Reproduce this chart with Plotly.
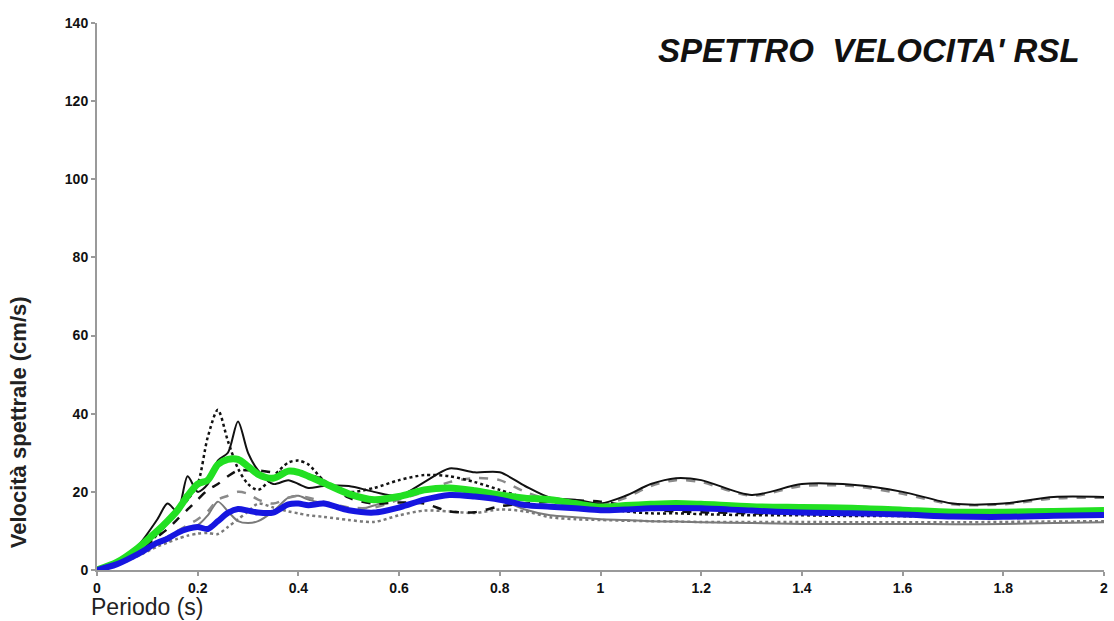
import plotly.graph_objects as go

periods = [0, 0.04, 0.08, 0.12, 0.14, 0.16, 0.18, 0.2, 0.22, 0.24, 0.26, 0.28, 0.3, 0.32, 0.35,
           0.38, 0.4, 0.42, 0.45, 0.5, 0.55, 0.6, 0.65, 0.7, 0.75, 0.8, 0.85, 0.9, 0.95, 1.0,
           1.05, 1.1, 1.15, 1.2, 1.3, 1.4, 1.5, 1.6, 1.7, 1.8, 1.9, 2.0]

black_solid = [0, 2, 6, 13, 17, 15, 24, 20, 22, 28, 30, 38, 30, 25.5, 22, 23, 22, 21, 21.5,
               21.5, 20, 19, 22.5, 26, 25, 25, 21.5, 18.5, 18, 17, 19, 22, 23.5, 23, 19.2,
               22, 21.8, 20, 17, 17, 18.7, 18.7]
black_dotted = [0, 2, 5, 9, 12, 15, 18, 22, 34, 41, 33, 26, 22, 20.5, 24, 27.5, 28, 27, 23,
                20, 21, 23, 24.3, 24, 22.5, 20.5, 18.5, 17.5, 17, 16, 15, 14.5, 14.5, 14.3,
                14, 14, 13.8, 13.8, 13.5, 13.5, 13.6, 13.7]
black_dashed = [0, 1.5, 4.5, 8.5, 10.5, 13, 15.5, 18, 20.5, 22, 24, 25.5, 25.5, 25.5, 25,
                25.3, 25, 24.5, 23, 18.5, 17, 17.3, 17, 15, 14.8, 16.3, 17, 17.5, 17.8, 17.5,
                16.5, 15.5, 15, 14.8, 14.5, 14.5, 14.3, 14.2, 14, 14, 14.2, 14.3]
gray_solid = [0, 1.5, 4, 7, 8.5, 9.5, 11, 11.5, 14, 17.5, 15, 12.5, 12, 12.5, 15, 18.5, 19,
              18, 17, 15, 16.5, 19, 20.8, 20.8, 19.5, 18, 15.5, 14, 13.5, 13, 12.8, 12.5,
              12.4, 12.2, 12, 11.8, 11.8, 11.8, 11.7, 11.8, 12, 12.2]
gray_dashed = [0, 1.5, 4, 7, 8.5, 10, 11.5, 13, 15, 18, 19, 20, 19.5, 18, 17, 18.5, 19, 18.5,
               17.5, 16, 16, 18, 20, 22.5, 23.5, 23, 20, 18, 17, 16.5, 18.5, 21.5, 23, 22.5,
               19, 21.5, 21.5, 19.5, 16.8, 16.8, 18.3, 18.5]
gray_dotted = [0, 1.3, 3.5, 6, 7, 8, 8.8, 9.3, 9.5, 9.2, 11, 13, 15, 17, 16, 15, 14.5, 14,
               13.6, 12.8, 12.3, 14, 15.2, 15, 14.6, 15.5, 15, 13.5, 13, 12.8, 12.6, 12.5,
               12.4, 12.3, 12.3, 12.3, 12.2, 12.2, 12.2, 12.3, 12.4, 12.5]
green_mean = [0, 2, 5.5, 10, 12.5, 15.3, 19, 22, 23, 27, 28.3, 28.3, 26.5, 24.5, 23.5, 25.3,
              25, 24, 22.3, 19.5, 18, 18.8, 20.5, 21, 20.3, 19.2, 18.4, 18, 17, 16.1, 16.5,
              16.8, 17, 16.8, 16.2, 16, 15.8, 15.3, 14.8, 14.8, 15, 15.2]
blue_mean = [0, 1.5, 4, 7, 8, 9.5, 10.5, 11, 10.5, 12.5, 14.6, 15.6, 15.2, 14.7, 14.7, 16.8,
             17, 16.6, 17, 15.3, 14.7, 16, 18, 19.2, 18.8, 18, 16.6, 16.2, 15.8, 15.3, 15.5,
             15.8, 15.9, 15.8, 15.2, 14.7, 14.5, 14.2, 13.7, 13.6, 13.9, 14.1]

x_ticks = [0, 0.2, 0.4, 0.6, 0.8, 1, 1.2, 1.4, 1.6, 1.8, 2]
x_tick_text = ["0", "0.2", "0.4", "0.6", "0.8", "1", "1.2", "1.4", "1.6", "1.8", "2"]
y_ticks = [0, 20, 40, 60, 80, 100, 120, 140]

series = [
    (gray_dotted, "#7a7a7a", "dot", 2.5),
    (gray_solid, "#7a7a7a", "solid", 2),
    (gray_dashed, "#8a8a8a", "dash", 2.5),
    (black_dashed, "#111111", "dash", 2.5),
    (black_dotted, "#111111", "dot", 2.5),
    (black_solid, "#111111", "solid", 2),
    (green_mean, "#22e022", "solid", 7),
    (blue_mean, "#1616e0", "solid", 6),
]

fig = go.Figure()
for vals, col, dash, w in series:
    fig.add_trace(go.Scatter(x=periods, y=vals, mode="lines",
                             line=dict(color=col, dash=dash, width=w, shape="spline", smoothing=0.8),
                             showlegend=False, hoverinfo="skip"))

axis_common = dict(showgrid=False, zeroline=False, showline=True, linecolor="#9a9a9a",
                   linewidth=2, ticks="outside", tickcolor="#9a9a9a", ticklen=4, tickwidth=2,
                   tickfont=dict(family="Liberation Sans", size=14, color="#111", weight="bold"))

fig.update_layout(
    width=1114, height=621,
    margin=dict(l=97, r=6, t=23, b=51),
    paper_bgcolor="white", plot_bgcolor="white",
    xaxis=dict(range=[0, 2], tickvals=x_ticks, ticktext=x_tick_text, **axis_common),
    yaxis=dict(range=[0, 140], tickvals=y_ticks, **axis_common),
    annotations=[
        dict(text="SPETTRO\u00a0\u00a0VELOCITA' RSL", xref="paper", yref="paper",
             x=0.9785, y=1.0, xanchor="right", yanchor="middle", yshift=-27, showarrow=False,
             font=dict(family="Liberation Sans", size=33, color="#111", weight="bold", style="italic")),
        dict(text="Periodo (s)", xref="paper", yref="paper", x=0, y=0, xanchor="left",
             yanchor="middle", xshift=-8, yshift=-37, showarrow=False,
             font=dict(family="Liberation Sans", size=23, color="#222")),
        dict(text="Velocità spettrale (cm/s)", xref="paper", yref="paper", x=0, y=0.27,
             xanchor="center", yanchor="middle", xshift=-79, textangle=-90, showarrow=False,
             font=dict(family="Liberation Sans", size=22, color="#222", weight="bold")),
    ],
)

fig.write_html("out.html")
